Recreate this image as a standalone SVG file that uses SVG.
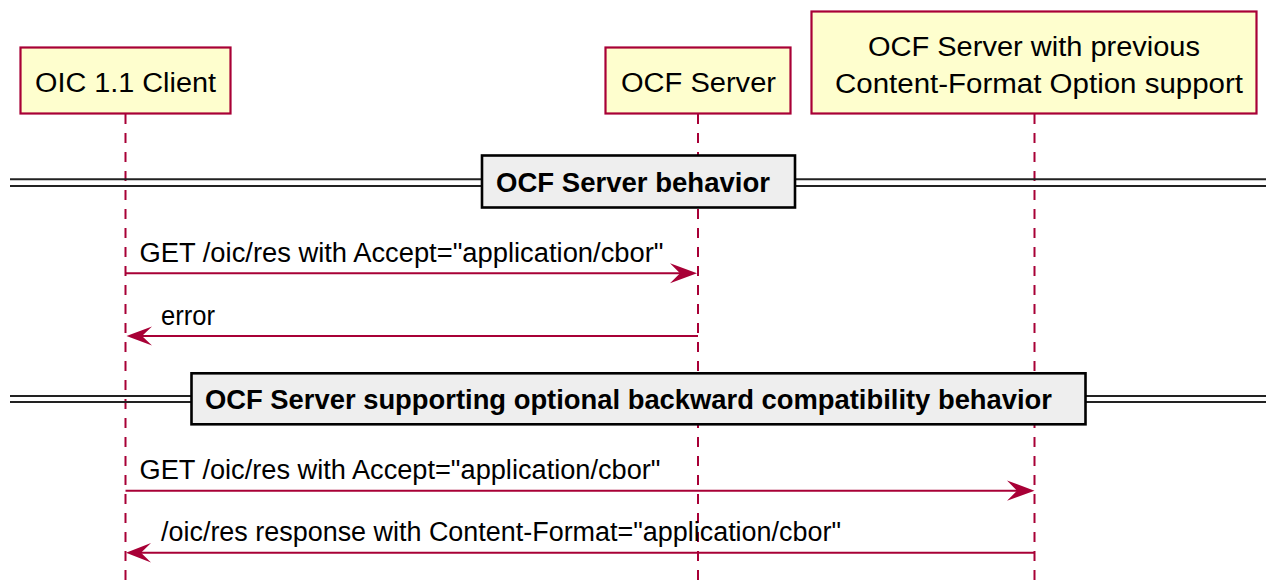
<svg xmlns="http://www.w3.org/2000/svg" width="1266" height="582" viewBox="0 0 1266 582">
<defs>
<style>
.t{font-family:"Liberation Sans",Arial,sans-serif;font-size:27px;fill:#000}
.b{font-family:"Liberation Sans",Arial,sans-serif;font-size:27px;font-weight:bold;fill:#000}
.part{fill:#FEFECE;stroke:#A80036;stroke-width:2.2}
.life{stroke:#A80036;stroke-width:2;stroke-dasharray:10,9;fill:none}
.msg{stroke:#A80036;stroke-width:2;fill:none}
.head{fill:#A80036;stroke:none}
.dline{stroke:#222;stroke-width:2}
.dbox{fill:#EEEEEE;stroke:#000;stroke-width:2.6}
</style>
</defs>
<rect width="1266" height="582" fill="#fff"/>
<g id="lifelines">
<line class="life" x1="125.5" y1="114" x2="125.5" y2="582"/>
<line class="life" x1="698" y1="114" x2="698" y2="582"/>
<line class="life" x1="1034.5" y1="114" x2="1034.5" y2="582"/>
</g>
<g id="client">
<rect class="part" x="20.5" y="47.5" width="210" height="66"/>
<text class="t" x="35" y="92" textLength="181" lengthAdjust="spacingAndGlyphs">OIC 1.1 Client</text>
</g>
<g id="server">
<rect class="part" x="605.5" y="47.5" width="185" height="66"/>
<text class="t" x="621" y="92" textLength="155" lengthAdjust="spacingAndGlyphs">OCF Server</text>
</g>
<g id="server-prev">
<rect class="part" x="811.5" y="11.5" width="445" height="102"/>
<text class="t" x="868" y="55.5" textLength="332" lengthAdjust="spacingAndGlyphs">OCF Server with previous</text>
<text class="t" x="835" y="92.5" textLength="408" lengthAdjust="spacingAndGlyphs">Content-Format Option support</text>
</g>
<g id="divider1">
<line class="dline" x1="10" y1="179.3" x2="1266" y2="179.3"/>
<line class="dline" x1="10" y1="186" x2="1266" y2="186"/>
<rect class="dbox" x="482" y="155.5" width="313" height="52"/>
<text class="b" x="496" y="192.3" textLength="274" lengthAdjust="spacingAndGlyphs">OCF Server behavior</text>
</g>
<g id="divider2">
<line class="dline" x1="10" y1="396" x2="1266" y2="396"/>
<line class="dline" x1="10" y1="402" x2="1266" y2="402"/>
<rect class="dbox" x="191.5" y="373.3" width="894" height="51"/>
<text class="b" x="205" y="408.5" textLength="847" lengthAdjust="spacingAndGlyphs">OCF Server supporting optional backward compatibility behavior</text>
</g>
<g id="connectors">
<line class="msg" x1="125.5" y1="273.3" x2="692" y2="273.3"/>
<polygon class="head" points="697,273.3 670,263.3 680,273.3 670,283.3"/>
<text class="t" x="139.5" y="261.7" textLength="524" lengthAdjust="spacingAndGlyphs">GET /oic/res with Accept="application/cbor"</text>
<line class="msg" x1="132" y1="336" x2="698" y2="336"/>
<polygon class="head" points="126.5,336 152,326.5 142,336 152,345.5"/>
<text class="t" x="161" y="325" textLength="54" lengthAdjust="spacingAndGlyphs">error</text>
<line class="msg" x1="125.5" y1="490.7" x2="1029" y2="490.7"/>
<polygon class="head" points="1034.5,490.7 1007,480.5 1017,490.7 1007,500.8"/>
<text class="t" x="139.5" y="478.7" textLength="521" lengthAdjust="spacingAndGlyphs">GET /oic/res with Accept="application/cbor"</text>
<line class="msg" x1="132" y1="552.7" x2="1034.5" y2="552.7"/>
<polygon class="head" points="126,552.7 151,543 141,552.7 151,562.4"/>
<text class="t" x="161" y="540.7" textLength="680" lengthAdjust="spacingAndGlyphs">/oic/res response with Content-Format="application/cbor"</text>
</g>
</svg>
